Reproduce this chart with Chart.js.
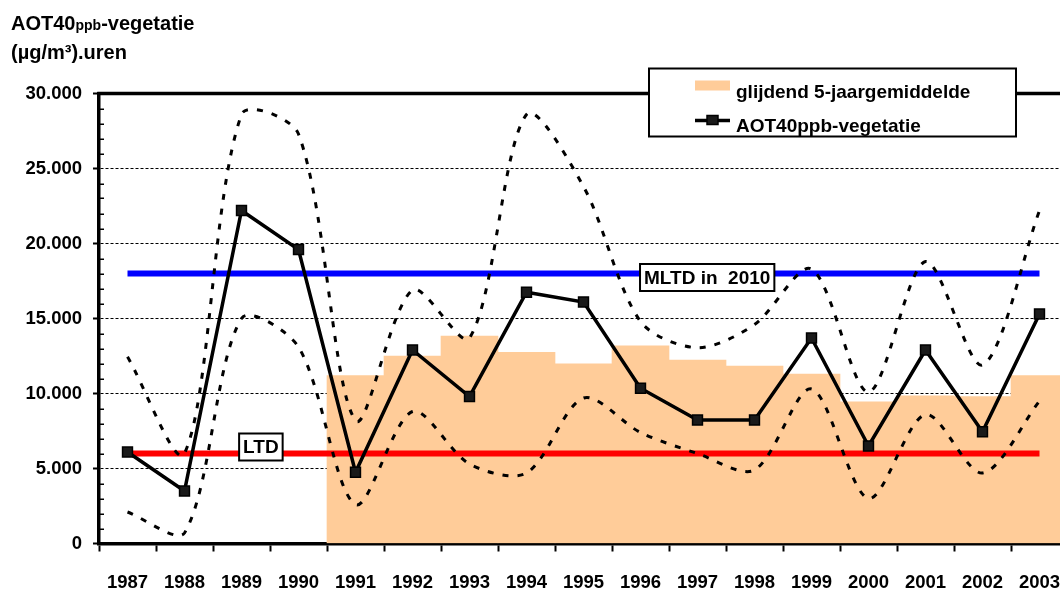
<!DOCTYPE html>
<html><head><meta charset="utf-8">
<script src="https://cdn.jsdelivr.net/npm/chart.js@4/dist/chart.umd.min.js"></script>
<style>
html,body{margin:0;padding:0;background:#fff;overflow:hidden;width:1060px;height:589px}
#wrap{position:relative;width:1090px;height:589px}
canvas{position:absolute;left:0;top:0}
#ytitle{position:absolute;left:11px;top:10px;font:bold 20px "Liberation Sans",Arial,sans-serif;line-height:26.5px;color:#000;white-space:nowrap}
#ytitle .sub{font-size:14px}
</style></head><body>
<div id="wrap"><canvas id="c" width="1090" height="589"></canvas>
<div id="ytitle">AOT40<span class="sub">ppb</span>-vegetatie<br>(µg/m³).uren</div></div>
<script>
// ---- data ----
const years = ['1987','1988','1989','1990','1991','1992','1993','1994','1995','1996','1997','1998','1999','2000','2001','2002','2003'];
const aot40 = [6100, 3500, 22200, 19600, 4750, 12900, 9800, 16750, 16100, 10350, 8230, 8230, 13700, 6500, 12900, 7450, 15300];
const avg5  = [null, null, null, null, 11200, 12500, 13830, 12750, 11970, 13170, 12230, 11830, 11300, 9450, 9850, 9800, 11200];
const upper = [12450, 6000, 28600, 27300, 8200, 16900, 13700, 28600, 23800, 14800, 13050, 14600, 18300, 10100, 18800, 11900, 22200];
const lower = [2100, 700, 15000, 13100, 2600, 8800, 5300, 4700, 9700, 7400, 6000, 4900, 10300, 3000, 8600, 4700, 9500];
const ltdValue = 6000;
const mltdValue = 18000;
const yTicks = [0, 5000, 10000, 15000, 20000, 25000, 30000];
const labelAvg = 'glijdend 5-jaargemiddelde';
const labelAot = 'AOT40ppb-vegetatie';
const labelLtd = 'LTD';
const labelMltd = 'MLTD in  2010';

const FONT = '"Liberation Sans", Arial, sans-serif';
const fmt = v => String(v).replace(/\B(?=(\d{3})+(?!\d))/g, '.');

const deco = {
  id: 'deco',
  afterDatasetsDraw(chart) {
    const ctx = chart.ctx, ca = chart.chartArea, y = chart.scales.y, x = chart.scales.x;
    ctx.save();
    ctx.strokeStyle = '#000'; ctx.lineWidth = 1.5;
    for (let v = 1000; v < 30000; v += 1000) {
      if (v % 5000 === 0) continue;
      const py = Math.round(y.getPixelForValue(v)) + 0.25;
      ctx.beginPath(); ctx.moveTo(ca.left, py); ctx.lineTo(ca.left + 5, py); ctx.stroke();
    }
    ctx.restore();
    const box = (text, idx, val, dy) => {
      ctx.save();
      ctx.font = 'bold 19px ' + FONT;
      const w = ctx.measureText(text).width + 8;
      const h = 27;
      const cx = x.getPixelForValue(idx), cy = y.getPixelForValue(val) + dy;
      ctx.fillStyle = '#fff';
      ctx.fillRect(cx - w / 2, cy - h / 2, w, h);
      ctx.strokeStyle = '#000'; ctx.lineWidth = 2;
      ctx.strokeRect(cx - w / 2, cy - h / 2, w, h);
      ctx.fillStyle = '#000'; ctx.textAlign = 'center'; ctx.textBaseline = 'middle';
      ctx.fillText(text, cx, cy + 1);
      ctx.restore();
    };
    box(labelLtd, 2.34, ltdValue, -6.5);
    box(labelMltd, 10.17, mltdValue, 4);
  },
  afterDraw(chart) {
    const ctx = chart.ctx, ca = chart.chartArea;
    ctx.save();
    ctx.strokeStyle = '#000'; ctx.lineWidth = 3.5;
    ctx.beginPath(); ctx.moveTo(ca.left - 1.75, ca.top); ctx.lineTo(chart.width, ca.top); ctx.stroke();
    const lx = 649, ly = 68.5, lw = 367, lh = 68;
    ctx.fillStyle = '#fff'; ctx.fillRect(lx, ly, lw, lh);
    ctx.strokeStyle = '#000'; ctx.lineWidth = 2; ctx.strokeRect(lx, ly, lw, lh);
    ctx.fillStyle = '#ffcc99'; ctx.fillRect(695, 80.5, 35, 10);
    ctx.strokeStyle = '#000'; ctx.lineWidth = 3.5;
    ctx.beginPath(); ctx.moveTo(695, 120.5); ctx.lineTo(730, 120.5); ctx.stroke();
    ctx.fillStyle = '#1a1a1a'; ctx.lineWidth = 1.5;
    ctx.fillRect(707, 115.5, 11, 9); ctx.strokeRect(707, 115.5, 11, 9);
    ctx.fillStyle = '#000'; ctx.font = 'bold 19px ' + FONT; ctx.textBaseline = 'alphabetic'; ctx.textAlign = 'left';
    ctx.fillText(labelAvg, 736, 97.5);
    ctx.fillText(labelAot, 736, 132);
    ctx.restore();
  }
};

new Chart(document.getElementById('c').getContext('2d'), {
  type: 'bar',
  data: {
    labels: years,
    datasets: [
      { type: 'line', label: labelAot, data: aot40, borderColor: '#000', borderWidth: 3.5,
        pointStyle: 'rect', pointRadius: 7, pointBackgroundColor: '#1a1a1a', pointBorderColor: '#000',
        pointBorderWidth: 1.5, tension: 0, order: 0 },
      { type: 'line', label: 'boven', data: upper, borderColor: '#000', borderWidth: 3, borderDash: [6, 9],
        pointRadius: 0, tension: 0.3, order: 1 },
      { type: 'line', label: 'onder', data: lower, borderColor: '#000', borderWidth: 3, borderDash: [6, 9],
        pointRadius: 0, tension: 0.3, order: 1 },
      { type: 'line', label: labelLtd, data: years.map(() => ltdValue), borderColor: '#ff0000', borderWidth: 6,
        pointRadius: 0, order: 2 },
      { type: 'line', label: labelMltd, data: years.map(() => mltdValue), borderColor: '#0000ff', borderWidth: 6,
        pointRadius: 0, order: 2 },
      { type: 'bar', label: labelAvg, data: avg5, backgroundColor: '#ffcc99', barPercentage: 1, categoryPercentage: 1,
        order: 3 }
    ]
  },
  options: {
    responsive: false, animation: false,
    layout: { padding: { left: 0, right: 22, top: 93.5, bottom: 0 } },
    plugins: { legend: { display: false }, tooltip: { enabled: false } },
    scales: {
      x: {
        offset: true,
        grid: { offset: true, drawOnChartArea: false, color: '#000', tickColor: '#000', tickLength: 8, tickWidth: 2 },
        border: { color: '#000', width: 3.5 },
        ticks: { color: '#000', font: { family: FONT, size: 18.5, weight: 'bold' }, padding: 20, maxRotation: 0, autoSkip: false },
        afterFit: s => { s.height = 45.5; }
      },
      y: {
        min: 0, max: 30000,
        afterBuildTicks: s => { s.ticks = yTicks.map(v => ({ value: v })); },
        ticks: { color: '#000', font: { family: FONT, size: 18.5, weight: 'bold' }, padding: 11, callback: v => fmt(v) },
        grid: { color: c => (c.tick && c.tick.value > 0 && c.tick.value < 30000) ? '#000' : 'rgba(0,0,0,0)',
                lineWidth: 1, tickColor: '#000', tickLength: 6, tickWidth: 2 },
        border: { color: '#000', width: 3.5, dash: [3, 2] },
        afterFit: s => { s.width = 99; }
      }
    }
  },
  plugins: [deco]
});
</script>
</body></html>
